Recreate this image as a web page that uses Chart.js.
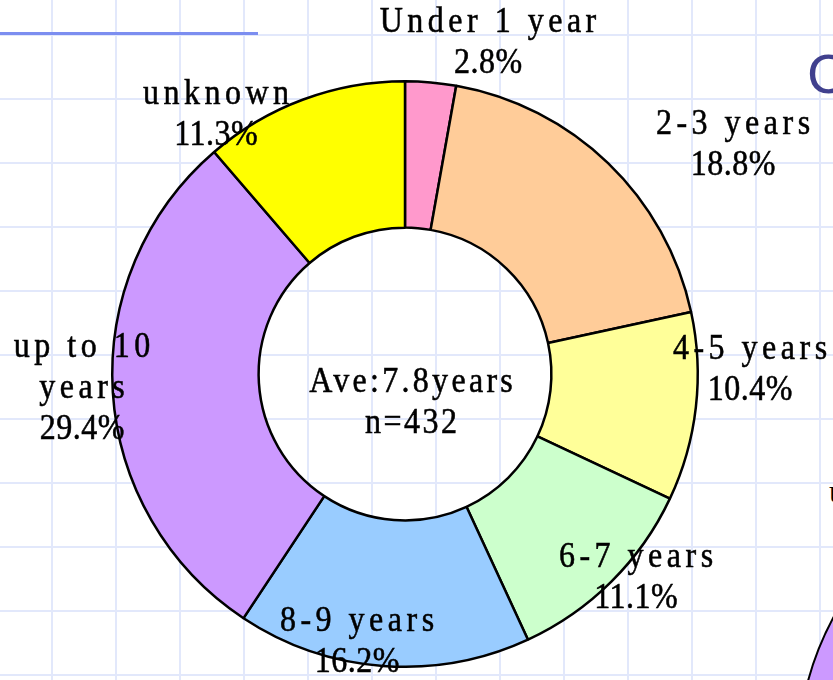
<!DOCTYPE html>
<html>
<head>
<meta charset="utf-8">
<script src="https://cdn.jsdelivr.net/npm/chart.js@4.4.1/dist/chart.umd.min.js"></script>
<style>
  html, body { margin: 0; padding: 0; background: #ffffff; }
  #stage {
    position: relative;
    width: 833px;
    height: 680px;
    overflow: hidden;
    background-color: #ffffff;
    background-image:
      linear-gradient(to right, #e2e8fb 0, #e2e8fb 2px, transparent 2px),
      linear-gradient(to bottom, #e2e8fb 0, #e2e8fb 2px, transparent 2px);
    background-size: 64px 64px;
    background-position: 51px 34px;
  }
  #rule {
    position: absolute; left: 0; top: 32px; width: 258px; height: 3px;
    background: #7c8ef0;
  }
  #titleCap {
    position: absolute; left: 807px; top: 46px;
    font: 56px "Liberation Sans", Arial, sans-serif; line-height: 1;
    color: #40408e;
  }
  #edgeText {
    position: absolute; left: 829px; top: 475px;
    font: 32px "Liberation Serif", serif; line-height: 1; color: #000;
  }
  #nextPie {
    position: absolute; left: 797px; top: 463px; width: 588px; height: 588px;
    box-sizing: border-box; border: 2.5px solid #000; border-radius: 50%;
    background: #cc99ff;
  }
  #chart { position: absolute; left: 0; top: 0; }
</style>
</head>
<body>
<div id="stage">
  <div id="rule"></div>
  <div id="titleCap">C</div>
  <div id="edgeText">u</div>
  <div id="nextPie"></div>
  <canvas id="chart" width="833" height="680"></canvas>
</div>
<script>
// Years of experience, share of respondents (%)
const categories = ['Under 1 year', '2-3 years', '4-5 years', '6-7 years', '8-9 years', 'up to 10 years', 'unknown'];
const shares = [2.8, 18.8, 10.4, 11.1, 16.2, 29.4, 11.3];
const averageYears = 7.8;
const sampleSize = 432;

// How each category name is broken into lines on its label
const labelLines = [['Under 1 year'], ['2-3 years'], ['4-5 years'], ['6-7 years'], ['8-9 years'], ['up to 10', 'years'], ['unknown']];

// Slice colours
const sliceColors = ['#ff99cc', '#ffcc99', '#ffff99', '#ccffcc', '#99ccff', '#cc99ff', '#ffff00'];

// Label block centres, as offsets from the doughnut centre (px)
const labelOffsets = [[83, -331], [328, -229], [345, -4], [231, 204], [-48, 268], [-323, 15], [-189, -259]];
const centreOffset = [6, 29];
const lineGap = 41;

const labelPlugin = {
  id: 'sliceLabels',
  afterDraw(chart) {
    const meta = chart.getDatasetMeta(0);
    if (!meta.data.length) return;
    const cx = meta.data[0].x;
    const cy = meta.data[0].y;
    const ctx = chart.ctx;
    ctx.save();
    ctx.font = '32px "Liberation Serif", "Times New Roman", serif';
    ctx.fillStyle = '#000000';
    ctx.strokeStyle = '#000000';
    ctx.lineWidth = 0.5;
    ctx.textAlign = 'center';
    ctx.textBaseline = 'middle';

    // one line of text, slightly stretched vertically
    const drawLine = (t, x, y, spacing) => {
      if ('letterSpacing' in ctx) ctx.letterSpacing = spacing + 'px';
      ctx.save();
      ctx.translate(x + spacing / 2, y);
      ctx.scale(1, 1.1);
      ctx.fillText(t, 0, 0);
      ctx.strokeText(t, 0, 0);
      ctx.restore();
    };

    const drawBlock = (lines, spacings, ox, oy) => {
      const n = lines.length;
      lines.forEach((t, j) => {
        drawLine(t, cx + ox, cy + oy + (j - (n - 1) / 2) * lineGap, spacings[j]);
      });
    };

    categories.forEach((c, i) => {
      const names = labelLines[i];
      const lines = names.concat([shares[i].toFixed(1) + '%']);
      const spacings = names.map(() => 4.5).concat([0.5]);
      drawBlock(lines, spacings, labelOffsets[i][0], labelOffsets[i][1]);
    });
    drawBlock(['Ave:' + averageYears + 'years', 'n=' + sampleSize], [3.3, 2.5], centreOffset[0], centreOffset[1]);
    ctx.restore();
  }
};

new Chart(document.getElementById('chart'), {
  type: 'doughnut',
  data: {
    labels: categories,
    datasets: [{
      data: shares,
      backgroundColor: sliceColors,
      borderColor: '#000000',
      borderWidth: 2.5
    }]
  },
  options: {
    responsive: false,
    animation: false,
    cutout: '50%',
    layout: { padding: { left: 111, right: 134, top: 80, bottom: 12 } },
    plugins: {
      legend: { display: false },
      tooltip: { enabled: false }
    }
  },
  plugins: [labelPlugin]
});
</script>
</body>
</html>
